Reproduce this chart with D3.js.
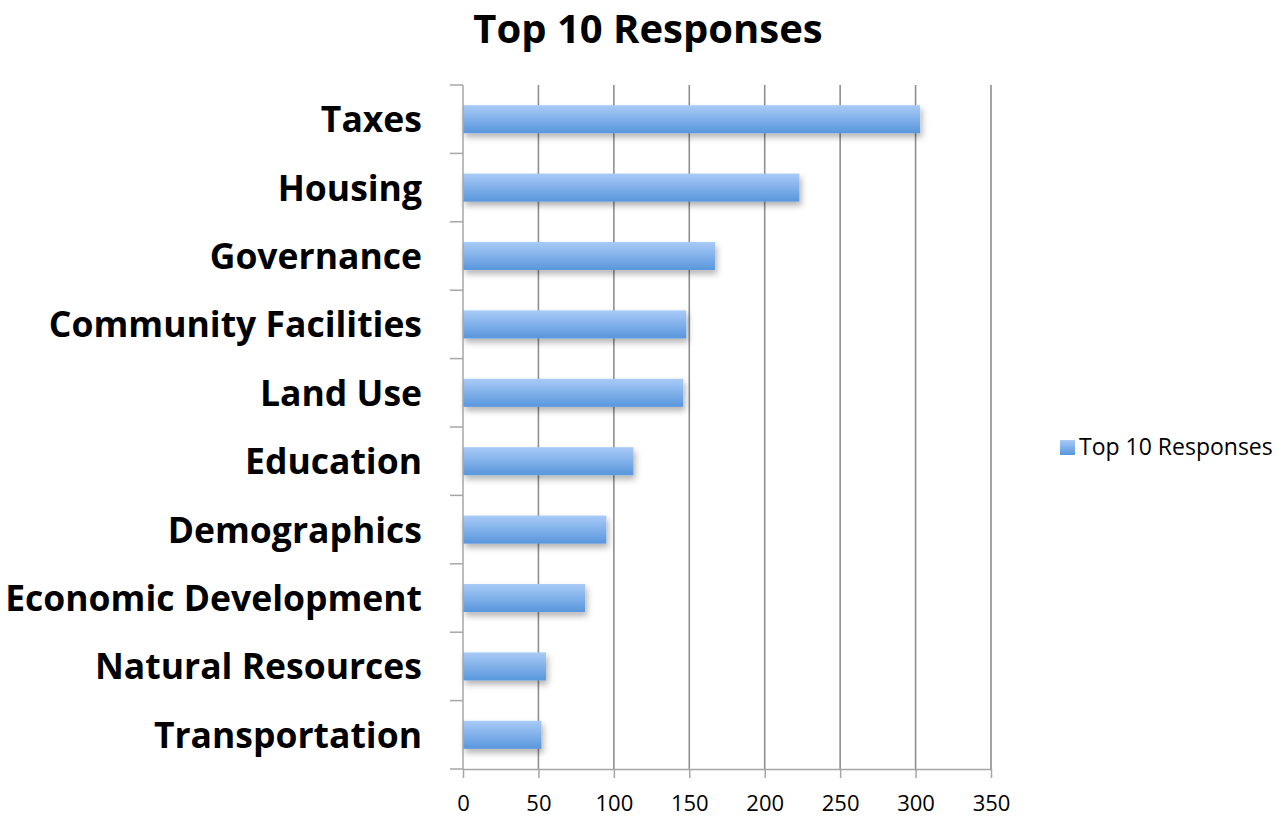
<!DOCTYPE html>
<html>
<head>
<meta charset="utf-8">
<script src="https://cdn.jsdelivr.net/npm/d3@7"></script>
<style>
  body { margin: 0; background: #fff; }
  svg { display: block; }
</style>
</head>
<body>
<svg id="chart" width="1278" height="818"></svg>
<script>
// data
const categories = ["Taxes", "Housing", "Governance", "Community Facilities", "Land Use",
  "Education", "Demographics", "Economic Development", "Natural Resources", "Transportation"];
const values = [303, 223, 167, 148, 146, 113, 95, 81, 55, 52];
const xTicks = [0, 50, 100, 150, 200, 250, 300, 350];
const seriesName = "Top 10 Responses";

const svg = d3.select("#chart");
const font = "'Open Sans', sans-serif";

const margin = { left: 463, right: 287, top: 85, bottom: 49 };
const width = 1278, height = 818;

const x = d3.scaleLinear().domain([0, 350]).range([margin.left, width - margin.right]);
const y = d3.scaleBand().domain(categories).range([margin.top, height - margin.bottom])
  .paddingInner(0.59).paddingOuter(0.295);

const defs = svg.append("defs");
const grad = defs.append("linearGradient").attr("id", "barGrad")
  .attr("x1", 0).attr("y1", 0).attr("x2", 0).attr("y2", 1);
grad.append("stop").attr("offset", "0%").attr("stop-color", "#a9cbf7");
grad.append("stop").attr("offset", "100%").attr("stop-color", "#5896dc");

const shadow = defs.append("filter").attr("id", "shadow")
  .attr("x", "-10%").attr("y", "-30%").attr("width", "130%").attr("height", "190%");
shadow.append("feDropShadow").attr("dx", 2).attr("dy", 4).attr("stdDeviation", 3)
  .attr("flood-color", "#000").attr("flood-opacity", 0.3);

// vertical gridlines
svg.append("g").selectAll("line")
  .data(xTicks.slice(1))
  .join("line")
  .attr("x1", d => x(d)).attr("x2", d => x(d))
  .attr("y1", margin.top).attr("y2", height - margin.bottom)
  .attr("stroke", "#8f8f8f").attr("stroke-width", 1.6);

// bars
svg.append("g").selectAll("rect")
  .data(values)
  .join("rect")
  .attr("x", x(0))
  .attr("y", (d, i) => y(categories[i]))
  .attr("width", d => x(d) - x(0))
  .attr("height", y.bandwidth())
  .attr("fill", "url(#barGrad)")
  .attr("filter", "url(#shadow)");

// y axis with ticks on band edges
const yAxis = svg.append("g");
yAxis.append("line")
  .attr("x1", x(0)).attr("x2", x(0))
  .attr("y1", margin.top).attr("y2", height - margin.bottom)
  .attr("stroke", "#a6a6a6").attr("stroke-width", 1.5);
yAxis.selectAll("line.tick")
  .data(categories.map(c => y(c) - (y.step() - y.bandwidth()) / 2).concat([height - margin.bottom]))
  .join("line").attr("class", "tick")
  .attr("x1", x(0) - 13).attr("x2", x(0))
  .attr("y1", d => d).attr("y2", d => d)
  .attr("stroke", "#a6a6a6").attr("stroke-width", 1.5);
yAxis.selectAll("text")
  .data(categories)
  .join("text")
  .attr("x", 422)
  .attr("y", d => y(d) + y.bandwidth() / 2 + 13)
  .attr("text-anchor", "end")
  .attr("font-family", font)
  .attr("font-weight", "bold")
  .attr("font-size", 35.5)
  .attr("fill", "#000")
  .text(d => d);

// x axis
const xAxis = svg.append("g")
  .attr("transform", `translate(0,${height - margin.bottom})`)
  .call(d3.axisBottom(x).tickValues(xTicks).tickSize(9).tickSizeOuter(0).tickPadding(0));
xAxis.select(".domain").attr("stroke", "#a6a6a6").attr("stroke-width", 1.5);
xAxis.selectAll(".tick line").attr("stroke", "#a6a6a6").attr("stroke-width", 1.5);
xAxis.selectAll(".tick text")
  .attr("y", 42).attr("dy", null)
  .attr("font-family", font).attr("font-size", 22).attr("fill", "#000");

// title
svg.append("text")
  .attr("x", 648).attr("y", 43)
  .attr("text-anchor", "middle")
  .attr("font-family", font).attr("font-weight", "bold").attr("font-size", 40)
  .text(seriesName);

// legend
const legend = svg.append("g").attr("transform", "translate(1060,440)");
legend.append("rect").attr("width", 15).attr("height", 15).attr("fill", "url(#barGrad)");
legend.append("text").attr("x", 19).attr("y", 15)
  .attr("font-family", font).attr("font-size", 23).attr("fill", "#000")
  .text(seriesName);
</script>
</body>
</html>
